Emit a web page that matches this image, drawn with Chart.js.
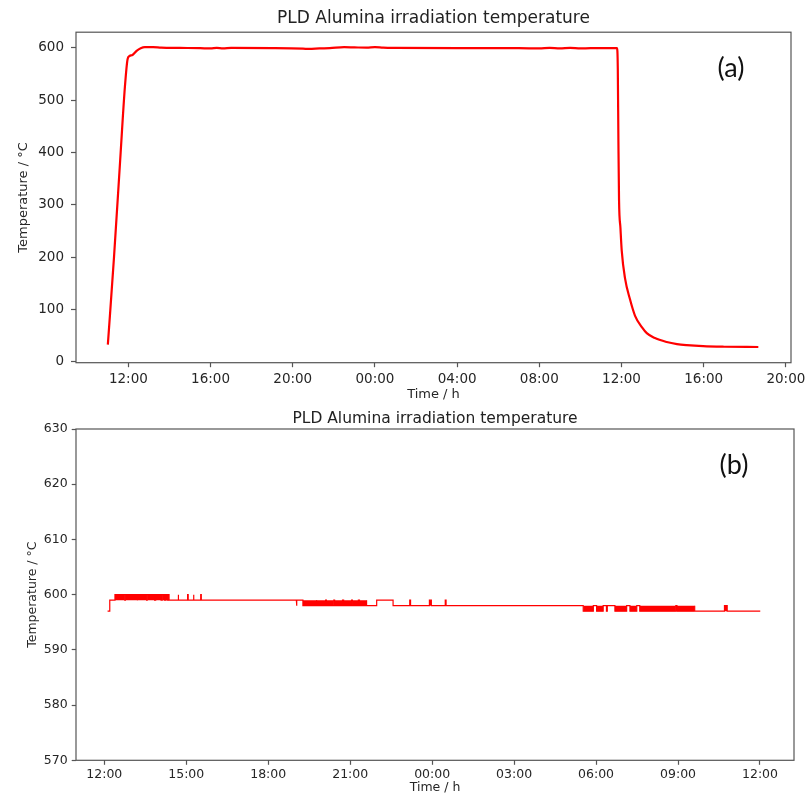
<!DOCTYPE html>
<html>
<head>
<meta charset="utf-8">
<script src="https://cdn.jsdelivr.net/npm/chart.js@4"></script>
<style>
  body { margin: 0; background: #fff; }
  canvas { display: block; }
</style>
</head>
<body>
<canvas id="chartA" width="808" height="404"></canvas>
<canvas id="chartB" width="808" height="392"></canvas>
<script>
// time is in hours counted from 00:00 of the first day
const aTimes = [11.00, 11.30, 11.60, 11.83, 11.96, 12.05, 12.20, 12.40, 12.60, 12.80,
  13.20, 13.60, 14.50, 15.50, 16.00, 16.30, 16.60, 17.00, 19.00, 20.50,
  20.80, 21.30, 21.80, 22.50, 23.00, 23.60, 24.00, 24.40, 25.00, 28.00,
  31.00, 32.00, 32.50, 33.00, 33.50, 34.00, 34.50, 35.78, 35.82, 35.85,
  35.88, 35.95, 36.01, 36.17, 36.41, 36.66, 37.00, 37.23, 37.60, 38.20,
  38.70, 39.17, 39.97, 41.00, 42.66];
const aTemps = [33, 200, 385, 525, 578, 584, 586, 594, 599, 601,
  601, 600, 599.5, 599, 598.5, 599.5, 598.8, 599.5, 599, 598,
  597.5, 598.5, 599, 601, 600.5, 600, 601, 600, 599.5, 599,
  599, 598.5, 599.5, 598.5, 599.5, 598.5, 599, 599, 560, 420,
  310, 255, 213, 160, 120, 88, 66, 55, 46, 38,
  34, 32, 30, 29, 28.5];
const aXTicks = [12, 16, 20, 24, 28, 32, 36, 40, 44];
const aYTicks = [0, 100, 200, 300, 400, 500, 600];

// (b): resting level, held from each time until the next one
const bBaseTimes = [12.12, 12.20, 21.60, 21.97, 22.57, 33.61, 36.01];
const bBaseTemps = [597, 599, 598, 599, 598, 597, 597];
// short excursions [start, end] away from the resting level
const bUp600 = [[12.39, 12.75], [12.77, 13.20], [13.22, 13.55], [13.57, 13.84], [13.88, 14.08],
  [14.12, 14.20], [14.24, 14.30], [14.34, 14.37], [14.70, 14.72], [15.05, 15.07], [15.26, 15.28], [15.53, 15.55]];
const bDown598 = [[19.03, 19.05], [19.27, 19.75], [19.78, 20.10], [20.13, 20.40], [20.43, 20.72],
  [20.76, 21.05], [21.08, 21.30], [21.34, 21.60]];
const bUp599 = [[23.18, 23.21], [23.90, 23.97], [24.48, 24.51]];
const bDown597 = [[29.53, 29.90], [30.02, 30.26], [30.38, 30.41], [30.69, 31.12], [31.24, 31.49],
  [31.60, 32.92], [32.96, 33.61]];
const bUp598 = [[34.70, 34.80]];
const bXTicks = [12, 15, 18, 21, 24, 27, 30, 33, 36];
const bYTicks = [570, 580, 590, 600, 610, 620, 630];

const groups = [
  { spans: bUp600, base: 599, level: 600 },
  { spans: bDown598, base: 599, level: 598 },
  { spans: bUp599, base: 598, level: 599 },
  { spans: bDown597, base: 598, level: 597 },
  { spans: bUp598, base: 597, level: 598 }
];

function spanPoints(g) {
  const pts = [];
  g.spans.forEach(([s, e]) => {
    pts.push({ x: s, y: g.base }, { x: s, y: g.level }, { x: e, y: g.level }, { x: e, y: g.base });
  });
  return pts;
}

const bLine = [];
for (let i = 0; i < bBaseTimes.length - 1; i++) {
  const t0 = bBaseTimes[i], t1 = bBaseTimes[i + 1], base = bBaseTemps[i];
  bLine.push({ x: t0, y: base });
  const inside = [];
  groups.forEach(g => g.spans.forEach(sp => {
    if (sp[0] >= t0 && sp[0] < t1 && g.base === base) inside.push({ s: sp[0], e: sp[1], l: g.level });
  }));
  inside.sort((p, q) => p.s - q.s);
  inside.forEach(p => {
    bLine.push({ x: p.s, y: base }, { x: p.s, y: p.l }, { x: p.e, y: p.l }, { x: p.e, y: base });
  });
  bLine.push({ x: t1, y: base });
}

const FONT = 'DejaVu Sans';
const hhmm = v => String(((v % 24) + 24) % 24).padStart(2, '0') + ':00';

const framePlugin = {
  id: 'frame',
  afterDraw(chart, args, opts) {
    const { ctx, chartArea: a } = chart;
    ctx.save();
    ctx.strokeStyle = '#555';
    ctx.lineWidth = 1.2;
    ctx.strokeRect(a.left, a.top, a.right - a.left, a.bottom - a.top);
    ctx.fillStyle = '#111';
    ctx.font = '27px Lato';
    ctx.textAlign = 'center';
    ctx.textBaseline = 'middle';
    ctx.fillText(opts.tag, a.right - 60, a.top + 36);
    ctx.restore();
  }
};

function makeOptions(o) {
  return {
    responsive: false,
    animation: false,
    events: [],
    layout: { padding: { left: 0, right: o.padRight, top: 0, bottom: 0 } },
    plugins: {
      legend: { display: false },
      tooltip: { enabled: false },
      title: {
        display: true, fullSize: false, text: 'PLD Alumina irradiation temperature',
        color: '#222', font: { family: FONT, size: o.titleSize, weight: 'normal' },
        padding: o.titlePad
      },
      frame: { tag: o.tag }
    },
    scales: {
      x: {
        type: 'linear', min: o.xMin, max: o.xMax,
        afterBuildTicks: s => { s.ticks = o.xTicks.map(v => ({ value: v })); },
        afterFit: s => { s.height = o.xHeight; s.paddingLeft = 0; s.paddingRight = 0; },
        border: { display: false },
        grid: { drawOnChartArea: false, tickLength: 4.5, tickColor: '#555', tickWidth: 1.2 },
        ticks: { autoSkip: false, maxRotation: 0, padding: o.xTickPad, color: '#262626',
          font: { family: FONT, size: o.tickSize }, callback: v => hhmm(v) },
        title: { display: true, text: 'Time / h', color: '#262626',
          font: { family: FONT, size: o.labelSize }, padding: { top: 0, bottom: o.xTitlePad } }
      },
      y: {
        min: o.yMin, max: o.yMax,
        afterBuildTicks: s => { s.ticks = o.yTicks.map(v => ({ value: v })); },
        afterFit: s => { s.width = 76; s.paddingTop = 0; s.paddingBottom = 0; },
        border: { display: false },
        grid: { drawOnChartArea: false, tickLength: o.yTickLen, tickColor: '#555', tickWidth: 1.2 },
        ticks: { padding: o.yTickPad, color: '#262626', font: { family: FONT, size: o.tickSize } },
        title: { display: true, text: 'Temperature / °C', color: '#262626',
          font: { family: FONT, size: o.labelSize }, padding: { top: o.yTitlePad, bottom: 0 } }
      }
    }
  };
}

new Chart(document.getElementById('chartA'), {
  type: 'line',
  data: {
    datasets: [{
      data: aTimes.map((t, i) => ({ x: t, y: aTemps[i] })),
      borderColor: '#ff0000', borderWidth: 2.2, pointRadius: 0,
      cubicInterpolationMode: 'monotone', fill: false
    }]
  },
  options: makeOptions({
    padRight: 17, titleSize: 17, titlePad: { top: 8.4, bottom: 3.4 }, tag: '(a)',
    xMin: 9.45, xMax: 44.25, xTicks: aXTicks, xHeight: 41.3, xTickPad: 4, xTitlePad: 1.5,
    yMin: -1.5, yMax: 629.5, yTicks: aYTicks, yTickLen: 5, yTickPad: 7, yTitlePad: 16,
    tickSize: 13.5, labelSize: 13
  }),
  plugins: [framePlugin]
});

const bDatasets = [{
  data: bLine, borderColor: '#ff0000', borderWidth: 1.2, pointRadius: 0, tension: 0, fill: false
}];
groups.forEach(g => bDatasets.push({
  data: spanPoints(g), borderColor: 'rgba(0,0,0,0)', borderWidth: 1, pointRadius: 0, tension: 0,
  backgroundColor: '#ff0000', fill: { value: g.base }
}));

new Chart(document.getElementById('chartB'), {
  type: 'line',
  data: { datasets: bDatasets },
  options: makeOptions({
    padRight: 14, titleSize: 15.5, titlePad: { top: 5.4, bottom: 1 }, tag: '(b)',
    xMin: 10.964, xMax: 37.245, xTicks: bXTicks, xHeight: 35.7, xTickPad: 2.5, xTitlePad: 0.5,
    yMin: 570, yMax: 630, yTicks: bYTicks, yTickLen: 4.3, yTickPad: 4, yTitlePad: 25.5,
    tickSize: 12.5, labelSize: 12.5
  }),
  plugins: [framePlugin]
});
</script>
</body>
</html>
